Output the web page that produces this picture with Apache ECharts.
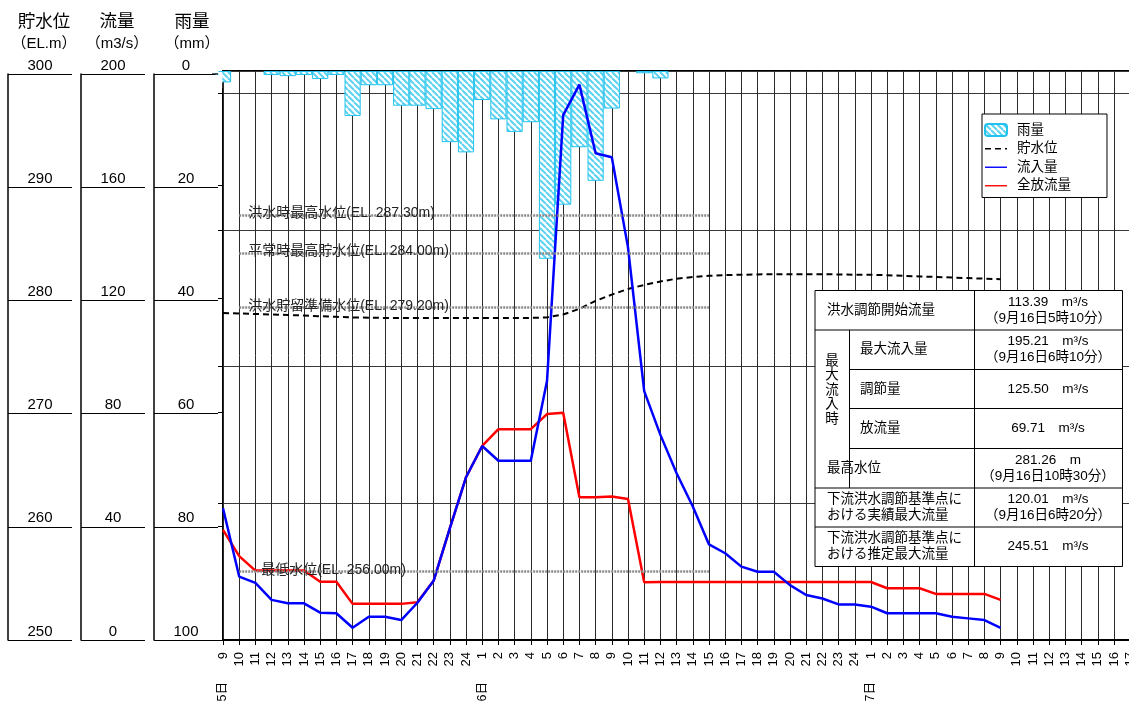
<!DOCTYPE html>
<html><head><meta charset="utf-8">
<script src="https://cdn.jsdelivr.net/npm/echarts@6/dist/echarts.min.js"></script>
<style>html,body{margin:0;padding:0;background:#fff}#c{width:1129px;height:706px}</style>
</head><body><div id="c"></div>
<script>
// ---- tick labels ----
const hourLabels = [
  9,10,11,12,13,14,15,16,17,18,19,20,21,22,23,24,
  1,2,3,4,5,6,7,8,9,10,11,12,13,14,15,16,17,18,19,20,21,22,23,24,
  1,2,3,4,5,6,7,8,9,10,11,12,13,14,15,16,17,18,19,20,21,22,23,24
];
const dayNames = ['5日', '6日', '7日'];
const dayStartIndex = [0, 16, 40];

// ---- series values ----
const rain = [2.0, null, null, 0.7, 0.9, 0.7, 1.4, 0.7, 7.9, 2.5, 2.5, 6.1, 6.1, 6.7, 12.5, 14.3, 5.1, 8.5, 10.7, 9.0, 33.0, 23.5, 13.4, 19.3, 6.6, null, 0.4, 1.3];
const storage = [278.73, 278.7, 278.65, 278.6, 278.56, 278.52, 278.45, 278.4, 278.35, 278.32, 278.3, 278.3, 278.3, 278.3, 278.3, 278.3, 278.3, 278.3, 278.3, 278.3, 278.35, 278.6, 279.1, 279.8, 280.35, 280.85, 281.2, 281.5, 281.75, 281.9, 282.0, 282.07, 282.1, 282.12, 282.15, 282.15, 282.15, 282.15, 282.12, 282.1, 282.1, 282.05, 282.0, 281.95, 281.9, 281.85, 281.8, 281.75, 281.7];
const inflow = [46.3, 22.3, 20.1, 14.1, 12.9, 12.9, 9.6, 9.4, 4.3, 8.2, 8.2, 7.0, 13.1, 20.8, 39.2, 57.2, 68.2, 63.0, 63.0, 63.0, 91.0, 184.5, 195.2, 171.1, 169.7, 138.0, 87.5, 72.1, 58.6, 46.9, 33.6, 30.5, 25.8, 24.0, 24.0, 19.3, 15.8, 14.6, 12.5, 12.5, 11.7, 9.4, 9.4, 9.4, 9.4, 8.2, 7.6, 7.0, 4.3];
const outflow = [38.7, 29.5, 24.4, 24.4, 24.4, 24.4, 20.5, 20.5, 12.7, 12.7, 12.7, 12.7, 13.3, 20.8, 39.2, 57.2, 68.2, 74.1, 74.1, 74.1, 79.4, 79.9, 50.2, 50.2, 50.4, 49.6, 20.3, 20.4, 20.4, 20.4, 20.4, 20.4, 20.4, 20.4, 20.4, 20.4, 20.4, 20.4, 20.4, 20.4, 20.4, 18.2, 18.2, 18.2, 16.2, 16.2, 16.2, 16.2, 14.1];

// reference levels
const refLevels = [287.3, 284.0, 279.2, 256.0];
const refNames = ['洪水時最高水位(EL. 287.30m)', '平常時最高貯水位(EL. 284.00m)', '洪水貯留準備水位(EL. 279.20m)', '最低水位(EL. 256.00m)'];
const refStartIndex = 1, refEndIndex = 30;

// table texts
const tableLabels = ['洪水調節開始流量', '最大流入量', '調節量', '放流量', '最高水位', '下流洪水調節基準点に\nおける実績最大流量', '下流洪水調節基準点に\nおける推定最大流量'];
const tableValues = ['113.39　m³/s\n（9月16日5時10分）', '195.21　m³/s\n（9月16日6時10分）', '125.50　m³/s', '69.71　m³/s', '281.26　m\n（9月16日10時30分）', '120.01　m³/s\n（9月16日6時20分）', '245.51　m³/s'];
const tableGroupLabel = '最\n大\n流\n入\n時';

const FONT = "'Liberation Sans','Noto Sans CJK JP',sans-serif";
const categories = hourLabels.map((h, i) => i + '_' + h);

function makePattern() {
  const c = document.createElement('canvas');
  c.width = 6; c.height = 6;
  const g = c.getContext('2d');
  g.fillStyle = '#ffffff'; g.fillRect(0, 0, 6, 6);
  g.strokeStyle = '#5cd2f2'; g.lineWidth = 2;
  g.beginPath();
  for (let k = -6; k <= 6; k += 6) { g.moveTo(k, 0); g.lineTo(k + 6, 6); }
  g.stroke();
  return c;
}
const rainFill = { image: makePattern(), repeat: 'repeat' };

// ---- graphics: headers, table ----
const tx0 = 815, tx1 = 849.5, tx2 = 974.5, tx3 = 1122.5;
const rowY = [290.5, 330, 369.5, 408.5, 448.5, 488, 527, 566.5];
const graphics = [];
const hdr = [['貯水位', 44, 22, 17.5], ['（EL.m）', 44, 44, 15], ['流量', 117, 22, 17.5], ['（m3/s）', 117, 44, 15], ['雨量', 192, 22, 17.5], ['（mm）', 192, 44, 15]];
hdr.forEach(h => graphics.push({ type: 'text', x: h[1], y: h[2], z: 100, style: { text: h[0], fill: '#000', font: h[3] + 'px ' + FONT, textAlign: 'center', textVerticalAlign: 'middle' } }));
// mask the part of the first rain bar that falls left of the plot
graphics.push({ type: 'rect', z: 90, shape: { x: 218.6, y: 72, width: 3.6, height: 16 }, style: { fill: '#fff' } });
graphics.push({ type: 'rect', z: 90, shape: { x: 212, y: 75, width: 10, height: 13 }, style: { fill: '#fff' } });
graphics.push({ type: 'rect', z: 90, shape: { x: 212, y: 71, width: 6.6, height: 2.4 }, style: { fill: '#fff' } });
graphics.push({ type: 'line', z: 91, shape: { x1: 212, y1: 74, x2: 218, y2: 74 }, style: { stroke: '#000', lineWidth: 1.2 } });

graphics.push({ type: 'rect', z: 100, shape: { x: tx0, y: rowY[0], width: tx3 - tx0, height: rowY[7] - rowY[0] }, style: { fill: '#fff', stroke: '#000', lineWidth: 1 } });
graphics.push({ type: 'line', z: 101, shape: { x1: tx2, y1: rowY[0], x2: tx2, y2: rowY[7] }, style: { stroke: '#000', lineWidth: 1 } });
graphics.push({ type: 'line', z: 101, shape: { x1: tx1, y1: rowY[1], x2: tx1, y2: rowY[5] }, style: { stroke: '#000', lineWidth: 1 } });
for (let r = 1; r < 7; r++) {
  const xs = (r >= 2 && r <= 4) ? tx1 : tx0;
  graphics.push({ type: 'line', z: 101, shape: { x1: xs, y1: rowY[r], x2: tx3, y2: rowY[r] }, style: { stroke: '#000', lineWidth: 1 } });
}
for (let r = 0; r < 7; r++) {
  const cy = (rowY[r] + rowY[r + 1]) / 2;
  const lx = (r >= 1 && r <= 3) ? 860 : 827;
  graphics.push({ type: 'text', z: 102, x: lx, y: cy, style: { text: tableLabels[r], fill: '#000', font: '13.5px ' + FONT, textAlign: 'left', textVerticalAlign: 'middle', lineHeight: 16 } });
  graphics.push({ type: 'text', z: 102, x: 1048, y: cy, style: { text: tableValues[r], fill: '#000', font: '13.5px ' + FONT, textAlign: 'center', textVerticalAlign: 'middle', lineHeight: 16 } });
}
graphics.push({ type: 'text', z: 102, x: 832, y: 390, style: { text: tableGroupLabel, fill: '#000', font: '13.5px ' + FONT, textAlign: 'center', textVerticalAlign: 'middle', lineHeight: 14.5 } });

const boxAxis = (grid, min, max, interval, inverse) => ({
  gridIndex: grid, type: 'value', min, max, interval, inverse: !!inverse, position: 'left',
  axisLine: { show: true, lineStyle: { color: '#000', width: 1.5 } },
  axisTick: { show: false },
  splitLine: { show: true, lineStyle: { color: '#000', width: 1.2 } },
  axisLabel: { inside: true, margin: 32, align: 'center', verticalAlign: 'bottom', fontSize: 15, color: '#000', fontFamily: FONT, padding: [0, 0, 1, 0] }
});

const chart = echarts.init(document.getElementById('c'));
chart.setOption({
  animation: false,
  backgroundColor: '#fff',
  textStyle: { fontFamily: FONT },
  grid: [
    { left: 223, top: 71, width: 63 * 16.2, height: 569, outerBoundsMode: 'none', containLabel: false, show: true, borderColor: '#000', borderWidth: 2, backgroundColor: 'transparent' },
    { left: 8, top: 74, width: 64, height: 566, outerBoundsMode: 'none' },
    { left: 81, top: 74, width: 64, height: 566, outerBoundsMode: 'none' },
    { left: 154, top: 74, width: 64, height: 566, outerBoundsMode: 'none' }
  ],
  xAxis: [
    {
      gridIndex: 0, type: 'category', data: categories, boundaryGap: false, position: 'bottom',
      axisLine: { lineStyle: { color: '#000', width: 2 } },
      axisTick: { show: true, interval: 0, length: 5, lineStyle: { color: '#000' } },
      splitLine: { show: true, interval: 0, lineStyle: { color: '#2a2a2a', width: 1 } },
      axisLabel: { interval: 0, rotate: 90, margin: 12, fontSize: 13, color: '#000', formatter: (v, i) => String(hourLabels[i]) }
    },
    {
      gridIndex: 0, type: 'category', data: categories, boundaryGap: false, position: 'bottom', offset: 31,
      axisLine: { show: false }, axisTick: { show: false }, splitLine: { show: false },
      axisLabel: { interval: 0, rotate: 90, margin: 11, fontSize: 12.5, color: '#000', formatter: (v, i) => { const k = dayStartIndex.indexOf(i); return k >= 0 ? dayNames[k] : ''; } }
    },
    { gridIndex: 1, type: 'value', show: false, min: 0, max: 1 },
    { gridIndex: 2, type: 'value', show: false, min: 0, max: 1 },
    { gridIndex: 3, type: 'value', show: false, min: 0, max: 1 }
  ],
  yAxis: [
    { gridIndex: 0, type: 'value', min: 250, max: 300, interval: 10, position: 'left',
      axisLine: { show: false }, axisLabel: { show: false }, splitLine: { show: false },
      axisTick: { show: true, length: 5, lineStyle: { color: '#000' } } },
    { gridIndex: 0, type: 'value', min: 0, max: 200, show: false },
    { gridIndex: 0, type: 'value', min: 0, max: 100, inverse: true, show: false },
    { gridIndex: 0, type: 'value', min: 0, max: 416.1, interval: 100, position: 'left',
      axisLine: { show: false }, axisLabel: { show: false },
      axisTick: { show: true, length: 5, lineStyle: { color: '#000' } },
      splitLine: { show: true, lineStyle: { color: '#3a3a3a', width: 1 } } },
    boxAxis(1, 250, 300, 10, false),
    boxAxis(2, 0, 200, 40, false),
    boxAxis(3, 0, 100, 20, true)
  ],
  legend: {
    orient: 'vertical', left: 982, top: 114, padding: [9, 36, 5, 2],
    itemWidth: 22, itemHeight: 12, itemGap: 5,
    backgroundColor: '#fff', borderColor: '#000', borderWidth: 1, borderRadius: 0,
    textStyle: { fontSize: 13.5, color: '#000', fontFamily: FONT, padding: [0, 0, 0, 5] },
    data: [
      { name: '雨量' },
      { name: '貯水位', itemStyle: { opacity: 0 }, lineStyle: { width: 1.6 } },
      { name: '流入量', itemStyle: { opacity: 0 }, lineStyle: { width: 1.4 } },
      { name: '全放流量', itemStyle: { opacity: 0 }, lineStyle: { width: 1.4 } }
    ]
  },
  graphic: graphics,
  series: [
    {
      name: '雨量', type: 'bar', xAxisIndex: 0, yAxisIndex: 2, data: rain,
      barCategoryGap: '0%', barWidth: '100%', clip: true,
      itemStyle: { color: rainFill, borderColor: '#22c3ee', borderWidth: 1 }
    },
    {
      name: '貯水位', type: 'line', xAxisIndex: 0, yAxisIndex: 0, data: storage,
      symbol: 'none', smooth: false,
      lineStyle: { color: '#000', width: 2, type: [6, 4] }, itemStyle: { color: '#000' },
      markLine: {
        silent: true, symbol: 'none',
        lineStyle: { color: '#8a8a8a', width: 2.5, type: [2, 1] },
        label: { show: true, position: 'insideStartTop', formatter: '{b}', color: '#222', fontSize: 14, distance: [9, -5] },
        data: refLevels.map((lv, k) => [
          { name: refNames[k], coord: [refStartIndex, lv], label: k === 3 ? { padding: [0, 0, 0, 13] } : {} },
          { coord: [refEndIndex, lv] }
        ])
      }
    },
    {
      name: '全放流量', type: 'line', xAxisIndex: 0, yAxisIndex: 1, data: outflow,
      symbol: 'none', lineStyle: { color: '#ff0000', width: 2.5 }, itemStyle: { color: '#ff0000' }
    },
    {
      name: '流入量', type: 'line', xAxisIndex: 0, yAxisIndex: 1, data: inflow,
      symbol: 'none', lineStyle: { color: '#0000ff', width: 2.5 }, itemStyle: { color: '#0000ff' }
    }
  ]
});
</script>
</body></html>
